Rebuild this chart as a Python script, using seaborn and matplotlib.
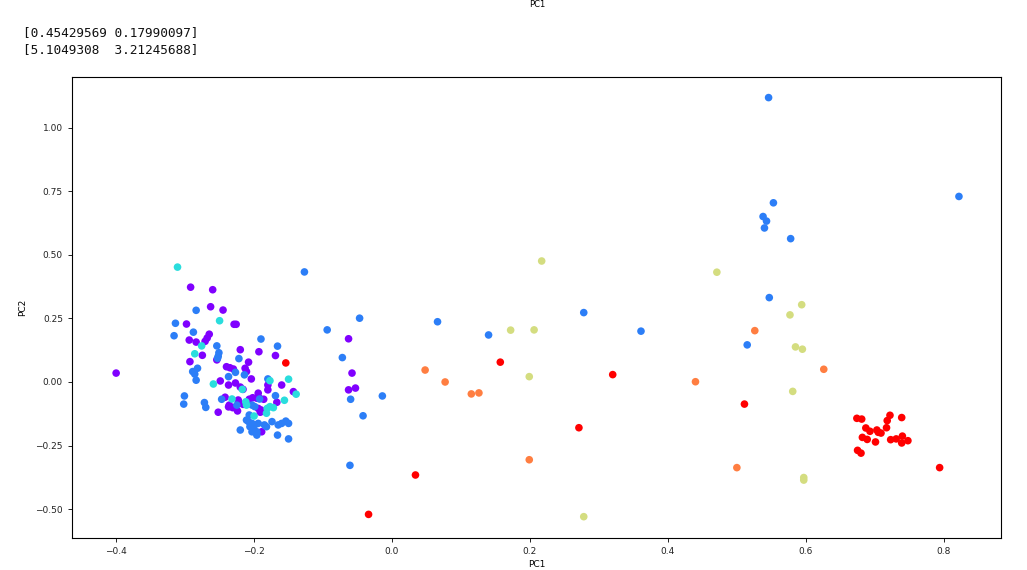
import pandas as pd
import matplotlib
matplotlib.use("Agg")
import matplotlib.pyplot as plt
import seaborn as sns

# explained variance ratio / variance printed above the plot
ratio_line = "[0.45429569 0.17990097]"
var_line = "[5.1049308  3.21245688]"

# PCA scores, grouped by cluster label
pc1_c0 = [-0.400, -0.063, -0.058, -0.053, -0.063,
          -0.292, -0.260, -0.263, -0.245, -0.298, -0.229, -0.226, -0.294, -0.284, -0.265,
          -0.268, -0.271, -0.275, -0.220, -0.193, -0.169, -0.293, -0.254, -0.240, -0.235,
          -0.230, -0.208, -0.213, -0.211, -0.249, -0.237, -0.227, -0.220, -0.216, -0.204,
          -0.180, -0.180, -0.194, -0.160, -0.143, -0.242, -0.223, -0.236, -0.207, -0.202,
          -0.196, -0.192, -0.186, -0.167, -0.216, -0.194, -0.190, -0.231, -0.237, -0.224,
          -0.191, -0.252, -0.189]
pc2_c0 = [0.035, 0.170, 0.035, -0.024, -0.031,
          0.373, 0.363, 0.296, 0.283, 0.228, 0.227, 0.227, 0.165, 0.157, 0.188,
          0.173, 0.160, 0.105, 0.127, 0.119, 0.104, 0.080, 0.087, 0.060, 0.056,
          0.051, 0.078, 0.054, 0.041, 0.004, -0.012, -0.004, -0.020, -0.029, 0.012,
          -0.012, -0.031, -0.044, -0.012, -0.038, -0.060, -0.071, -0.091, -0.068, -0.062,
          -0.064, -0.064, -0.068, -0.080, -0.088, -0.104, -0.110, -0.101, -0.098, -0.114,
          -0.119, -0.119, -0.196]

pc1_c1 = [0.546, 0.822, 0.553, 0.538, 0.543, 0.540, 0.578, 0.547, 0.515, 0.361,
          -0.047, 0.066, 0.140, 0.278, -0.072, -0.060, -0.014, -0.042, -0.061, -0.127, -0.094,
          -0.284, -0.314, -0.316, -0.288, -0.254, -0.251, -0.252, -0.253, -0.190, -0.166,
          -0.222, -0.282, -0.289, -0.286, -0.284, -0.237, -0.227, -0.214, -0.180, -0.301,
          -0.302, -0.272, -0.270, -0.247, -0.192, -0.169, -0.225, -0.203, -0.199, -0.207,
          -0.211, -0.208, -0.203, -0.199, -0.194, -0.206, -0.201, -0.196, -0.203, -0.185,
          -0.182, -0.174, -0.165, -0.160, -0.154, -0.150, -0.166, -0.150, -0.196, -0.220]
pc2_c1 = [1.119, 0.730, 0.705, 0.651, 0.633, 0.606, 0.564, 0.332, 0.146, 0.200,
          0.251, 0.237, 0.185, 0.273, 0.096, -0.068, -0.055, -0.133, -0.328, 0.433, 0.205,
          0.282, 0.231, 0.182, 0.196, 0.142, 0.115, 0.101, 0.093, 0.169, 0.141,
          0.092, 0.054, 0.041, 0.031, 0.007, 0.021, 0.038, 0.028, 0.012, -0.055,
          -0.087, -0.081, -0.100, -0.068, -0.067, -0.054, -0.091, -0.091, -0.097, -0.130,
          -0.150, -0.156, -0.163, -0.169, -0.163, -0.176, -0.189, -0.196, -0.196, -0.169,
          -0.176, -0.156, -0.169, -0.163, -0.154, -0.163, -0.209, -0.224, -0.209, -0.189]

pc1_c2 = [-0.311, -0.250, -0.276, -0.286, -0.259, -0.217, -0.177, -0.150, -0.139,
          -0.232, -0.212, -0.156, -0.211, -0.181, -0.177, -0.172, -0.200, -0.182]
pc2_c2 = [0.452, 0.241, 0.142, 0.111, -0.008, -0.029, 0.005, 0.011, -0.048,
          -0.067, -0.078, -0.072, -0.091, -0.104, -0.097, -0.101, -0.134, -0.123]

pc1_c4 = [0.217, 0.172, 0.206, 0.199, 0.278, 0.471, 0.594, 0.577, 0.585, 0.595, 0.581, 0.597, 0.597]
pc2_c4 = [0.476, 0.204, 0.205, 0.021, -0.530, 0.432, 0.304, 0.264, 0.138, 0.129, -0.037, -0.376, -0.386]

pc1_c5 = [0.048, 0.077, 0.115, 0.126, 0.199, 0.526, 0.626, 0.440, 0.500]
pc2_c5 = [0.047, 0.000, -0.047, -0.043, -0.306, 0.202, 0.050, 0.001, -0.337]

pc1_c6 = [0.674, 0.681, 0.722, 0.739, 0.718, 0.687, 0.693, 0.703, 0.705, 0.709, 0.717,
          0.682, 0.689, 0.701, 0.723, 0.731, 0.740, 0.739, 0.748, 0.675, 0.680, 0.794,
          0.157, 0.320, 0.271, 0.034, -0.034, 0.511, -0.154]
pc2_c6 = [-0.143, -0.146, -0.131, -0.140, -0.152, -0.181, -0.194, -0.189, -0.198, -0.201, -0.180,
          -0.218, -0.226, -0.236, -0.227, -0.224, -0.213, -0.240, -0.231, -0.269, -0.280, -0.337,
          0.078, 0.029, -0.180, -0.366, -0.521, -0.087, 0.075]

groups = {0: (pc1_c0, pc2_c0), 1: (pc1_c1, pc2_c1), 2: (pc1_c2, pc2_c2),
          4: (pc1_c4, pc2_c4), 5: (pc1_c5, pc2_c5), 6: (pc1_c6, pc2_c6)}

rows = []
for label, (xs, ys) in groups.items():
    for x, y in zip(xs, ys):
        rows.append({'PC1': x, 'PC2': y, 'Cluster': label})
df = pd.DataFrame(rows)

fig = plt.figure(figsize=(10.27, 5.70), dpi=100)
ax = fig.add_axes([0.0701, 0.0561, 0.9046, 0.8088])

sns.scatterplot(data=df, x='PC1', y='PC2', hue='Cluster', palette='rainbow',
                hue_norm=(0, 6), s=30, linewidth=0, legend=False, ax=ax)

ax.set_xlim(-0.464, 0.883)
ax.set_ylim(-0.614, 1.20)
ax.set_xticks([-0.4, -0.2, 0.0, 0.2, 0.4, 0.6, 0.8])
ax.set_yticks([-0.50, -0.25, 0.00, 0.25, 0.50, 0.75, 1.00])
ax.set_yticklabels(['\u22120.50', '\u22120.25', '0.00', '0.25', '0.50', '0.75', '1.00'])
ax.set_xticklabels(['\u22120.4', '\u22120.2', '0.0', '0.2', '0.4', '0.6', '0.8'])
ax.tick_params(labelsize=6.5, length=3, width=0.7, colors='#222222')
ax.set_xlabel('PC1', fontsize=6.5, labelpad=3)
ax.set_ylabel('PC2', fontsize=6.5, labelpad=6)
for sp in ax.spines.values():
    sp.set_linewidth(0.8)

# leftovers of the notebook output around the plot
fig.text(537 / 1027, 1.0, 'PC1', fontsize=6, ha='center', va='top')
fig.text(23 / 1027, 1 - 33 / 570, ratio_line, family='DejaVu Sans Mono', fontsize=9.2,
         ha='left', va='center', color='#111111')
fig.text(23 / 1027, 1 - 50 / 570, var_line, family='DejaVu Sans Mono', fontsize=9.2,
         ha='left', va='center', color='#111111')

fig.savefig('out.png', dpi=100)
